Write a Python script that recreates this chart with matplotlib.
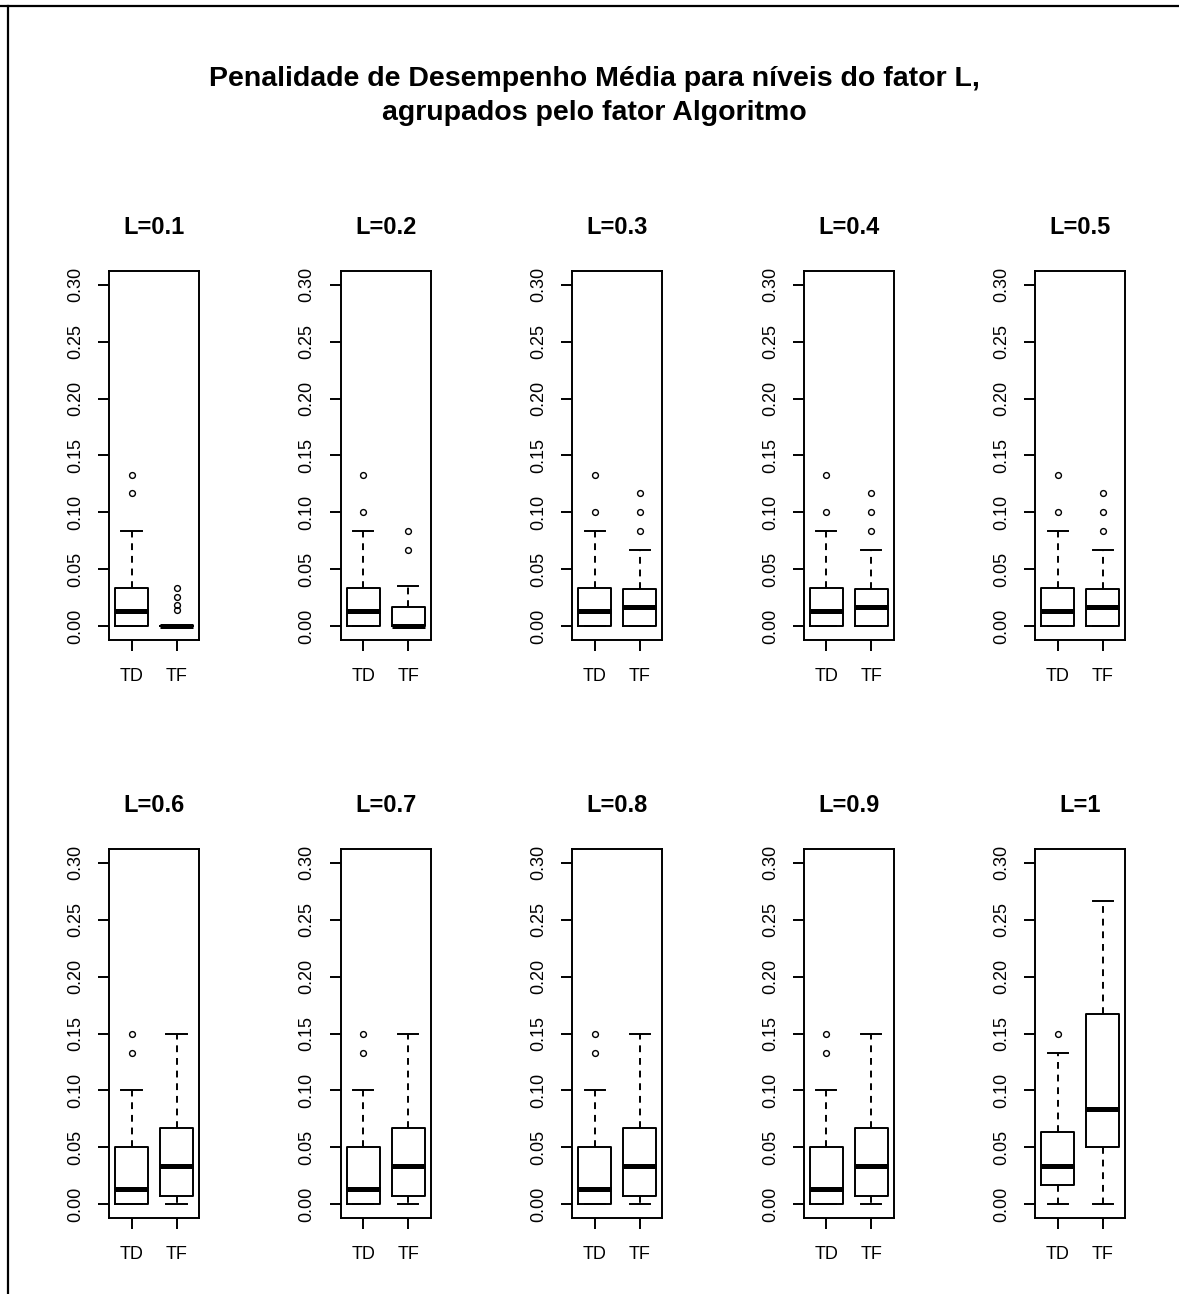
import numpy as np
import matplotlib
matplotlib.use('Agg')
import matplotlib.pyplot as plt
from matplotlib.lines import Line2D

plt.rcParams['font.family'] = ['Liberation Sans', 'DejaVu Sans']

# niveis do fator L e algoritmos
niveis = ['L=0.1', 'L=0.2', 'L=0.3', 'L=0.4', 'L=0.5',
          'L=0.6', 'L=0.7', 'L=0.8', 'L=0.9', 'L=1']
algoritmos = ['TD', 'TF']

# estatisticas dos boxplots
td_whislo = [0, 0, 0, 0, 0, 0, 0, 0, 0, 0]
td_q1 = [0, 0, 0, 0, 0, 0, 0, 0, 0, 0.0167]
td_med = [0.0139, 0.0139, 0.0139, 0.0139, 0.0139, 0.0139, 0.0139, 0.0139, 0.0139, 0.0333]
td_q3 = [0.0333, 0.0333, 0.0333, 0.0333, 0.0333, 0.05, 0.05, 0.05, 0.05, 0.0635]
td_whishi = [0.0833, 0.0833, 0.0833, 0.0833, 0.0833, 0.1, 0.1, 0.1, 0.1, 0.1333]
td_fliers = [[0.1167, 0.1333], [0.1, 0.1333], [0.1, 0.1333], [0.1, 0.1333], [0.1, 0.1333],
             [0.1333, 0.15], [0.1333, 0.15], [0.1333, 0.15], [0.1333, 0.15], [0.15]]

tf_whislo = [0, 0, 0, 0, 0, 0, 0, 0, 0, 0]
tf_q1 = [0, 0, 0, 0, 0, 0.0073, 0.0073, 0.0073, 0.0073, 0.05]
tf_med = [0, 0, 0.0167, 0.0167, 0.0167, 0.0333, 0.0333, 0.0333, 0.0333, 0.0833]
tf_q3 = [0, 0.0167, 0.0330, 0.0330, 0.0330, 0.0667, 0.0667, 0.0667, 0.0667, 0.1667]
tf_whishi = [0, 0.035, 0.0667, 0.0667, 0.0667, 0.15, 0.15, 0.15, 0.15, 0.2667]
tf_fliers = [[0.014, 0.019, 0.026, 0.034], [0.0667, 0.0833],
             [0.0833, 0.1, 0.1167], [0.0833, 0.1, 0.1167], [0.0833, 0.1, 0.1167],
             [], [], [], [], []]

yticks = [0.00, 0.05, 0.10, 0.15, 0.20, 0.25, 0.30]

W, H = 1179, 1294
fig = plt.figure(figsize=(W / 100, H / 100), dpi=100)

lw = 1.4
dash = (0, (3.5, 3))


def stat(lo, q1, med, q3, hi, fl):
    return dict(whislo=lo, q1=q1, med=med, q3=q3, whishi=hi, fliers=np.array(fl))


for i, nome in enumerate(niveis):
    row, col = divmod(i, 5)
    x0 = 109 + col * 231.6
    top = 271 + row * 578
    ax = fig.add_axes([x0 / W, 1 - (top + 369) / H, 90 / W, 369 / H])

    stats = [stat(td_whislo[i], td_q1[i], td_med[i], td_q3[i], td_whishi[i], td_fliers[i]),
             stat(tf_whislo[i], tf_q1[i], tf_med[i], tf_q3[i], tf_whishi[i], tf_fliers[i])]
    ax.bxp(stats, positions=[1, 2], widths=0.73, capwidths=0.45, manage_ticks=False,
           boxprops=dict(color='black', linewidth=lw),
           whiskerprops=dict(color='black', linewidth=lw, linestyle=dash),
           capprops=dict(color='black', linewidth=lw),
           medianprops=dict(color='black', linewidth=3.6, solid_capstyle='butt'),
           flierprops=dict(marker='o', markerfacecolor='none', markeredgecolor='black',
                           markersize=4.2, markeredgewidth=1.0))

    ax.set_xlim(0.5, 2.5)
    ax.set_ylim(-0.012, 0.312)
    ax.set_xticks([1, 2])
    ax.set_xticklabels(algoritmos)
    ax.set_yticks(yticks)
    ax.set_yticklabels(['%.2f' % v for v in yticks], rotation=90, va='center')
    ax.tick_params(axis='both', direction='out', length=8, width=lw,
                   labelsize=13, colors='black')
    ax.tick_params(axis='y', pad=10)
    ax.tick_params(axis='x', pad=12)
    for s in ax.spines.values():
        s.set_linewidth(lw)

    fig.text((x0 + 45) / W, 1 - (227.5 + row * 578) / H, nome, ha='center', va='center',
             fontsize=17, fontweight='bold')

fig.text(594 / W, 1 - 96 / H,
         'Penalidade de Desempenho Média para níveis do fator L,\nagrupados pelo fator Algoritmo',
         ha='center', va='center', fontsize=20.5, fontweight='bold', linespacing=1.4)

# moldura (apenas topo e lado esquerdo)
fig.add_artist(Line2D([0, 1], [1 - 6 / H, 1 - 6 / H], transform=fig.transFigure,
                      color='black', linewidth=1.6))
fig.add_artist(Line2D([8 / W, 8 / W], [0, 1 - 6 / H], transform=fig.transFigure,
                      color='black', linewidth=1.6))

fig.savefig('out.png', dpi=100)
